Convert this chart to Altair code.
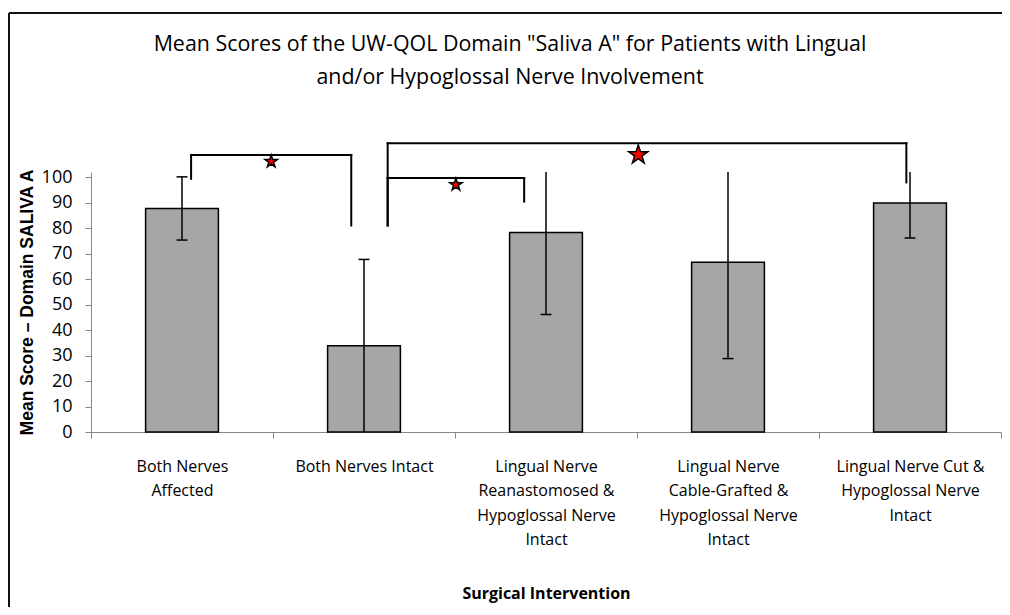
import altair as alt
import pandas as pd

# ---- data ----
categories = [
    "Both Nerves\nAffected",
    "Both Nerves Intact",
    "Lingual Nerve\nReanastomosed &\nHypoglossal Nerve\nIntact",
    "Lingual Nerve\nCable-Grafted &\nHypoglossal Nerve\nIntact",
    "Lingual Nerve Cut &\nHypoglossal Nerve\nIntact",
]
means = [87.7, 33.8, 78.3, 66.6, 89.8]
sds = [12.4, 33.9, 32.2, 37.8, 13.7]
y_ticks = [0, 10, 20, 30, 40, 50, 60, 70, 80, 90, 100]

# significance brackets (x in category-index units, y in score units)
bracket_x1 = [0.05, 1.13, 1.13]
bracket_x2 = [0.93, 1.88, 3.98]
bracket_top = [108.7, 99.6, 113.3]
bracket_left_foot = [99.3, 81.0, 81.0]
bracket_right_foot = [81.0, 90.4, 97.9]
star_x = [0.49, 1.505, 2.507]
star_y = [106.1, 97.0, 108.7]
star_size = [169, 169, 400]

title_lines = [
    'Mean Scores of the UW-QOL Domain "Saliva A" for Patients with Lingual',
    "and/or Hypoglossal Nerve Involvement",
]
x_title = "Surgical Intervention"
y_title = "Mean Score \u2013 Domain SALIVA A"

# ---- tables ----
n = len(categories)
bars = pd.DataFrame({"idx": list(range(n)), "mean": means, "sd": sds})
bars["lo"] = bars["mean"] - bars["sd"]
bars["hi"] = bars["mean"] + bars["sd"]

caps = pd.concat([
    pd.DataFrame({"idx": list(range(n)), "v": bars["lo"]}),
    pd.DataFrame({"idx": list(range(n)), "v": bars["hi"]}),
])
caps = caps[(caps["v"] > 0) & (caps["v"] <= 102)]

segs = []
for x1, x2, t, lf, rf in zip(bracket_x1, bracket_x2, bracket_top, bracket_left_foot, bracket_right_foot):
    segs.append({"x": x1, "x2": x2, "y": t, "y2": t})
    segs.append({"x": x1, "x2": x1, "y": t, "y2": lf})
    segs.append({"x": x2, "x2": x2, "y": t, "y2": rf})
segs = pd.DataFrame(segs)
stars = pd.DataFrame({"x": star_x, "y": star_y, "s": star_size})

# ---- layout (fixed-size canvas, content beyond is clipped like the cropped source) ----
PAD_L, PAD_T, PAD_R, PAD_B = 83, 164, 1, 175
W, H = 910, 260
band = W / n

xscale = alt.Scale(domain=[-0.5, n - 0.5], nice=False, zero=False)
yscale = alt.Scale(domain=[0, 102], nice=False, zero=False)

label_arr = "[" + ",".join("'" + c.replace("\n", "|") + "'" for c in categories) + "]"
label_expr = f"split({label_arr}[round(datum.value + 0.5)] || '', '|')"

FONT = "Open Sans"

xaxis = alt.Axis(
    values=[i - 0.5 for i in range(n + 1)],
    labelExpr=label_expr,
    labelOffset=band / 2,
    labelFont=FONT, labelFontSize=16, labelColor="#000000",
    labelLineHeight=24.5, labelPadding=20, labelBaseline="top",
    labelOverlap=False, labelBound=False, labelFlush=False,
    tickSize=6, tickColor="#888888", domainColor="#888888",
    grid=False,
    title=x_title, titleFont=FONT, titleFontSize=16, titleFontWeight="bold",
    titleColor="#000000", titlePadding=38,
)
yaxis = alt.Axis(
    values=y_ticks, tickCount=11, labelFont=FONT, labelFontSize=18,
    labelColor="#000000",
    labelPadding=13, tickSize=6, tickColor="#888888", domainColor="#888888",
    labelOverlap=False, labelBound=False, labelFlush=False, grid=False,
    title=y_title, titleFont="Liberation Sans", titleFontSize=17.5,
    titleFontWeight="bold", titleColor="#000000", titlePadding=5,
)

base = alt.Chart(bars)

bar_layer = base.transform_calculate(
    x1="datum.idx - 0.2", x2="datum.idx + 0.2"
).mark_bar(fill="#a6a6a6", stroke="#000000", strokeWidth=1.5).encode(
    x=alt.X("x1:Q", scale=xscale, axis=xaxis),
    x2="x2:Q",
    y=alt.Y("mean:Q", scale=yscale, axis=yaxis),
    y2=alt.datum(0),
)

err_layer = base.mark_rule(color="#000000", strokeWidth=1.5, clip=True).encode(
    x=alt.X("idx:Q", axis=xaxis), y=alt.Y("lo:Q", axis=yaxis), y2="hi:Q",
)

cap_layer = alt.Chart(caps).transform_calculate(
    a="datum.idx - 0.03", b="datum.idx + 0.03"
).mark_rule(color="#000000", strokeWidth=1.5).encode(
    x=alt.X("a:Q", axis=xaxis), x2="b:Q", y=alt.Y("v:Q", axis=yaxis),
)

bracket_layer = alt.Chart(segs).mark_rule(
    color="#000000", strokeWidth=2, strokeCap="square"
).encode(x=alt.X("x:Q", axis=xaxis), x2="x2:Q",
         y=alt.Y("y:Q", axis=yaxis), y2="y2:Q")

star_path = ("M0,-1L0.2245,-0.309L0.951,-0.309L0.363,0.118L0.588,0.809L0,0.382"
             "L-0.588,0.809L-0.363,0.118L-0.951,-0.309L-0.2245,-0.309Z")
star_layer = alt.Chart(stars).mark_point(
    shape=star_path, filled=True, fill="#ff0000", stroke="#000000",
    strokeWidth=1.5, opacity=1,
).encode(
    x=alt.X("x:Q", axis=xaxis), y=alt.Y("y:Q", axis=yaxis),
    size=alt.Size("s:Q", scale=None, legend=None),
)

one = pd.DataFrame({"k": [0]})
title_layer = alt.Chart(one).mark_text(
    font=FONT, fontSize=21.4, color="#000000", align="center",
    baseline="middle", lineHeight=33,
).encode(
    x=alt.value(419), y=alt.value(-127),
    text=alt.value(title_lines),
)

frame_left = alt.Chart(one).mark_rule(color="#111111", strokeWidth=2).encode(
    x=alt.value(-82), y=alt.value(-159), y2=alt.value(H + PAD_B + 5),
)
frame_top = alt.Chart(one).mark_rule(color="#111111", strokeWidth=2).encode(
    x=alt.value(-82), x2=alt.value(W + PAD_R + 5), y=alt.value(-159),
)

chart = alt.layer(
    bar_layer, err_layer, cap_layer, bracket_layer, star_layer,
    title_layer, frame_left, frame_top,
).properties(
    width=W, height=H,
    autosize=alt.AutoSizeParams(type="none"),
    padding={"left": PAD_L, "top": PAD_T, "right": PAD_R, "bottom": PAD_B},
).configure_view(stroke=None).configure_axisY(labelOverlap=False)

chart.save("out.html", embed_options={"renderer": "svg", "actions": False})
